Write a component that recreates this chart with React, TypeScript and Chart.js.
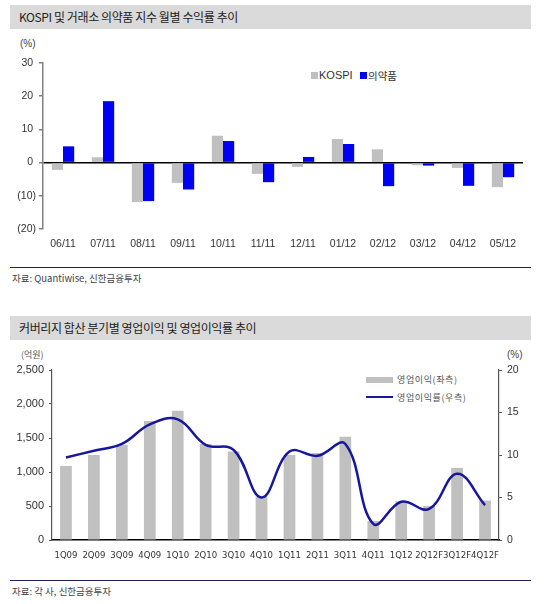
import React, { useEffect, useRef } from "react";
import { Chart, registerables } from "chart.js";

Chart.register(...registerables);

const TITLE1 = "KOSPI 및 거래소 의약품 지수 월별 수익률 추이";
const TITLE2 = "커버리지 합산 분기별 영업이익 및 영업이익률 추이";
const SOURCE1 = "자료: Quantiwise, 신한금융투자";
const SOURCE2 = "자료: 각 사, 신한금융투자";

const months = ["06/11", "07/11", "08/11", "09/11", "10/11", "11/11", "12/11", "01/12", "02/12", "03/12", "04/12", "05/12"];
const kospi = [-2.2, 1.6, -11.9, -6.1, 8.1, -3.4, -1.3, 7.1, 4.0, -0.8, -1.6, -7.4];
const pharma = [4.9, 18.5, -11.6, -8.1, 6.5, -5.9, 1.7, 5.6, -7.1, -0.9, -7.0, -4.4];
const seriesNames1 = ["KOSPI", "의약품"];

const quarters = ["1Q09", "2Q09", "3Q09", "4Q09", "1Q10", "2Q10", "3Q10", "4Q10", "1Q11", "2Q11", "3Q11", "4Q11", "1Q12", "2Q12F", "3Q12F", "4Q12F"];
const opProfit = [1090, 1250, 1400, 1750, 1900, 1410, 1300, 640, 1250, 1280, 1520, 280, 570, 500, 1060, 580];
const opMargin = [9.7, 10.5, 11.3, 13.6, 14.2, 11.2, 10.6, 5.0, 10.4, 9.9, 11.3, 1.9, 4.5, 3.65, 7.8, 4.1];
const seriesNames2 = ["영업이익(좌측)", "영업이익률(우측)"];

const GRAY = "#c0c0c0";
const BLUE = "#0000f5";
const NAVY = "#17179b";
const COND = "'DejaVu Sans Condensed', 'Liberation Sans', Arial, sans-serif";
const SANS = "'Liberation Sans', Arial, sans-serif";
const KR = "'Noto Sans CJK KR', 'Noto Sans', sans-serif";

function TopChart() {
  const ref = useRef<HTMLCanvasElement>(null);
  useEffect(() => {
    const chart = new Chart(ref.current!, {
      type: "bar",
      data: {
        labels: months,
        datasets: [
          { label: seriesNames1[0], data: kospi, backgroundColor: GRAY, categoryPercentage: 0.56, barPercentage: 1 },
          { label: seriesNames1[1], data: pharma, backgroundColor: BLUE, categoryPercentage: 0.56, barPercentage: 1 },
        ],
      },
      options: {
        animation: false,
        responsive: false,
        maintainAspectRatio: false,
        layout: { padding: { top: 33, right: 27, left: 0, bottom: 0 } },
        plugins: { legend: { display: false }, tooltip: { enabled: false } },
        scales: {
          x: {
            grid: { display: false, tickLength: 0 },
            border: { display: false },
            ticks: { font: { family: SANS, size: 10.5 }, color: "#333", padding: 9, autoSkip: false, maxRotation: 0 },
            afterFit: (s: any) => { s.height = 31; },
          },
          y: {
            min: -20,
            max: 30,
            z: 1,
            grid: {
              color: (c: any) => (c.tick && c.tick.value === 0 ? "#000" : "rgba(0,0,0,0)"),
              lineWidth: 1.5,
              tickColor: "#808080",
              tickLength: 4,
            },
            border: { color: "#808080", width: 1.5 },
            ticks: {
              stepSize: 10,
              font: { family: SANS, size: 10.5 },
              color: "#333",
              padding: 3,
              callback: (v: any) => (v < 0 ? `(${-v})` : `${v} `),
            },
            afterFit: (s: any) => { s.width = 43; },
          },
        },
      },
    });
    return () => chart.destroy();
  }, []);
  return <canvas ref={ref} width={550} height={230} style={{ position: "absolute", left: 0, top: 30, width: 550, height: 230 }} />;
}

function BottomChart() {
  const ref = useRef<HTMLCanvasElement>(null);
  useEffect(() => {
    const chart = new Chart(ref.current!, {
      type: "bar",
      data: {
        labels: quarters,
        datasets: [
          {
            type: "line",
            label: seriesNames2[1],
            data: opMargin,
            yAxisID: "y1",
            borderColor: NAVY,
            borderWidth: 2.5,
            pointRadius: 0,
            tension: 0.4,
            fill: false,
          } as any,
          {
            type: "bar",
            label: seriesNames2[0],
            data: opProfit,
            yAxisID: "y",
            backgroundColor: GRAY,
            categoryPercentage: 1,
            barPercentage: 0.42,
          },
        ],
      },
      options: {
        animation: false,
        responsive: false,
        maintainAspectRatio: false,
        layout: { padding: { top: 30, right: 0, left: 0, bottom: 0 } },
        plugins: { legend: { display: false }, tooltip: { enabled: false } },
        scales: {
          x: {
            grid: { display: false, tickLength: 0 },
            border: { color: "#000", width: 1.5 },
            ticks: { font: { family: COND, size: 9.5 }, color: "#333", padding: 10, autoSkip: false, maxRotation: 0 },
            afterFit: (s: any) => { s.height = 30; },
          },
          y: {
            position: "left",
            min: 0,
            max: 2500,
            grid: { drawOnChartArea: false, tickColor: "#555", tickLength: 3 },
            border: { color: "#555", width: 1.2 },
            ticks: {
              stepSize: 500,
              font: { family: SANS, size: 11 },
              color: "#333",
              padding: 5,
              callback: (v: any) => Number(v).toLocaleString("en-US"),
            },
            afterFit: (s: any) => { s.width = 52; },
          },
          y1: {
            position: "right",
            min: 0,
            max: 20,
            grid: { drawOnChartArea: false, tickColor: "#555", tickLength: 3 },
            border: { color: "#555", width: 1.2 },
            ticks: { stepSize: 5, font: { family: SANS, size: 10.5 }, color: "#333", padding: 5 },
            afterFit: (s: any) => { s.width = 51; },
          },
        },
      },
    });
    return () => chart.destroy();
  }, []);
  return <canvas ref={ref} width={550} height={230} style={{ position: "absolute", left: 0, top: 340, width: 550, height: 230 }} />;
}

const abs = (o: React.CSSProperties): React.CSSProperties => ({ position: "absolute", whiteSpace: "nowrap", ...o });

export default function App() {
  return (
    <div style={{ position: "absolute", left: 0, top: 0, width: 550, height: 604, background: "#fff", overflow: "hidden" }}>
      <div style={abs({ left: 10, top: 5, width: 521, height: 24, background: "#dadada" })} />
      <div style={abs({ left: 19, top: 5, height: 24, lineHeight: "24px", fontFamily: KR, fontSize: 12, color: "#222", letterSpacing: -0.4 })}>{TITLE1}</div>
      <div style={abs({ left: 20, top: 38, fontFamily: SANS, fontSize: 10, color: "#444" })}>(%)</div>

      <div style={abs({ left: 311, top: 72, width: 7, height: 7, background: GRAY })} />
      <div style={abs({ left: 319, top: 68, lineHeight: "15px", fontFamily: SANS, fontSize: 11, color: "#333" })}>{seriesNames1[0]}</div>
      <div style={abs({ left: 360, top: 72, width: 7, height: 7, background: BLUE })} />
      <div style={abs({ left: 368, top: 68, lineHeight: "15px", fontFamily: KR, fontSize: 10.5, color: "#333" })}>{seriesNames1[1]}</div>

      <TopChart />

      <div style={abs({ left: 10, top: 267, width: 521, height: 1, background: "#1f1f5f" })} />
      <div style={abs({ left: 12, top: 271, lineHeight: "14px", fontFamily: KR, fontSize: 9.5, color: "#444" })}>{SOURCE1}</div>

      <div style={abs({ left: 10, top: 316, width: 521, height: 24, background: "#dadada" })} />
      <div style={abs({ left: 19, top: 316, height: 24, lineHeight: "24px", fontFamily: KR, fontSize: 12, color: "#222", letterSpacing: -0.4 })}>{TITLE2}</div>
      <div style={abs({ left: 21, top: 349, lineHeight: "12px", fontFamily: KR, fontSize: 9, color: "#555" })}>(억원)</div>
      <div style={abs({ left: 507, top: 349, lineHeight: "12px", fontFamily: SANS, fontSize: 10, color: "#444" })}>(%)</div>

      <div style={abs({ left: 366, top: 377, width: 27, height: 6, background: GRAY })} />
      <div style={abs({ left: 397, top: 373, lineHeight: "13px", fontFamily: KR, fontSize: 9, letterSpacing: 0.6, color: "#555" })}>{seriesNames2[0]}</div>
      <div style={abs({ left: 366, top: 395.5, width: 27, height: 2.5, background: NAVY })} />
      <div style={abs({ left: 397, top: 390.5, lineHeight: "13px", fontFamily: KR, fontSize: 9, letterSpacing: 0.6, color: "#555" })}>{seriesNames2[1]}</div>

      <BottomChart />

      <div style={abs({ left: 10, top: 580, width: 521, height: 1, background: "#1f1f5f" })} />
      <div style={abs({ left: 12, top: 584, lineHeight: "14px", fontFamily: KR, fontSize: 9.5, color: "#444" })}>{SOURCE2}</div>
    </div>
  );
}
